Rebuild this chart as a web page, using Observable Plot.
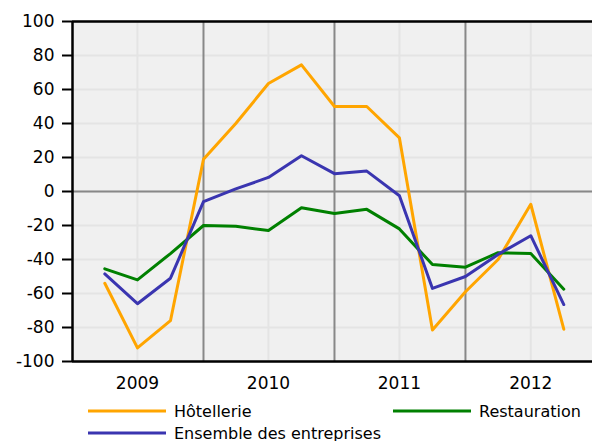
<!DOCTYPE html>
<html><head><meta charset="utf-8">
<script src="https://cdn.jsdelivr.net/npm/d3@7"></script>
<script src="https://cdn.jsdelivr.net/npm/@observablehq/plot@0.6"></script>
<style>
body{margin:0;background:#fff;font-family:"DejaVu Sans",sans-serif;}
#wrap{position:relative;width:592px;height:441px;overflow:hidden;}
#chart{position:absolute;left:0;top:0;}
.leg{position:absolute;height:22px;display:flex;align-items:center;font-size:16px;color:#000;white-space:nowrap;font-family:"DejaVu Sans",sans-serif;}
.leg svg{margin-right:8px;}
</style></head><body><div id="wrap"><div id="chart"></div></div>
<script>
const quarters = ["2009-04-01","2009-07-01","2009-10-01","2010-01-01","2010-04-01","2010-07-01","2010-10-01","2011-01-01","2011-04-01","2011-07-01","2011-10-01","2012-01-01","2012-04-01","2012-07-01","2012-10-01"];
const hotellerie   = [-54, -92, -76, 19, 40, 63.5, 74.5, 50, 50, 31.5, -81.5, -59, -40, -7.5, -81];
const restauration = [-45.5, -52, -36.5, -20, -20.5, -23, -9.5, -13, -10.5, -22, -43, -44.5, -36, -36.5, -57.5];
const ensemble     = [-48.5, -66, -51, -6, 1.5, 8.3, 21, 10.5, 12, -2.5, -57, -50, -37, -26, -66.5];
const seriesNames  = ["Hôtellerie", "Restauration", "Ensemble des entreprises"];
const seriesColors = ["#ffa500", "#008000", "#3a35b0"];
const tickDates    = ["2009-07-01","2010-07-01","2011-07-01","2012-07-01"];
const tickLabels   = ["2009","2010","2011","2012"];
const yearStarts   = ["2010-01-01","2011-01-01","2012-01-01"];
const yTicks       = [-100,-80,-60,-40,-20,0,20,40,60,80,100];
const xDomain      = ["2009-01-01","2012-12-20"];
const yDomain      = [-100, 100];

const P = s => new Date(s + "T00:00:00Z");
const seriesValues = [hotellerie, restauration, ensemble];
const rows = [];
seriesNames.forEach((name, i) => quarters.forEach((q, j) => rows.push({series: name, date: P(q), value: seriesValues[i][j]})));
const tD = tickDates.map(P);

const chart = Plot.plot({
  width: 592, height: 396,
  marginTop: 21, marginBottom: 35, marginLeft: 72, marginRight: 0,
  style: {fontFamily: "DejaVu Sans", fontSize: "17px", background: "transparent", color: "#000", overflow: "visible"},
  x: {type: "utc", domain: xDomain.map(P)},
  y: {domain: yDomain},
  color: {domain: seriesNames, range: seriesColors},
  marks: [
    Plot.frame({fill: "#f0f0f0", stroke: "none"}),
    Plot.gridY(yTicks, {stroke: "#e4e4e4", strokeOpacity: 1, strokeWidth: 2}),
    Plot.gridX(tD, {stroke: "#e4e4e4", strokeOpacity: 1, strokeWidth: 2}),
    Plot.ruleX(yearStarts.map(P), {stroke: "#888", strokeWidth: 2}),
    Plot.ruleY([0], {stroke: "#888", strokeWidth: 2}),
    Plot.lineY(rows, {x: "date", y: "value", z: "series", stroke: "series", strokeWidth: 3}),
    Plot.axisY(yTicks, {tickSize: 10, tickPadding: 8, strokeWidth: 2, label: null, fontSize: 17,
      tickFormat: d => `${d}`}),
    Plot.axisX(tD, {tickSize: 0, tickPadding: 15, label: null, fontSize: 17,
      tickFormat: d => tickLabels[tD.findIndex(t => +t === +d)]}),
    Plot.ruleX([P(xDomain[0])], {stroke: "#000", strokeWidth: 2.5}),
    Plot.ruleY(yDomain, {stroke: "#000", strokeWidth: 2.5})
  ]
});
document.getElementById("chart").appendChild(chart);

const legendPos = [[88, 400], [393, 400], [88, 422]];
const wrap = document.getElementById("wrap");
seriesNames.forEach((name, i) => {
  const d = document.createElement("div");
  d.className = "leg";
  d.style.left = legendPos[i][0] + "px";
  d.style.top = legendPos[i][1] + "px";
  d.innerHTML = `<svg width="78" height="4"><line x1="0" x2="78" y1="2" y2="2" stroke="${seriesColors[i]}" stroke-width="3"/></svg><span>${name}</span>`;
  wrap.appendChild(d);
});
</script>
</body></html>
